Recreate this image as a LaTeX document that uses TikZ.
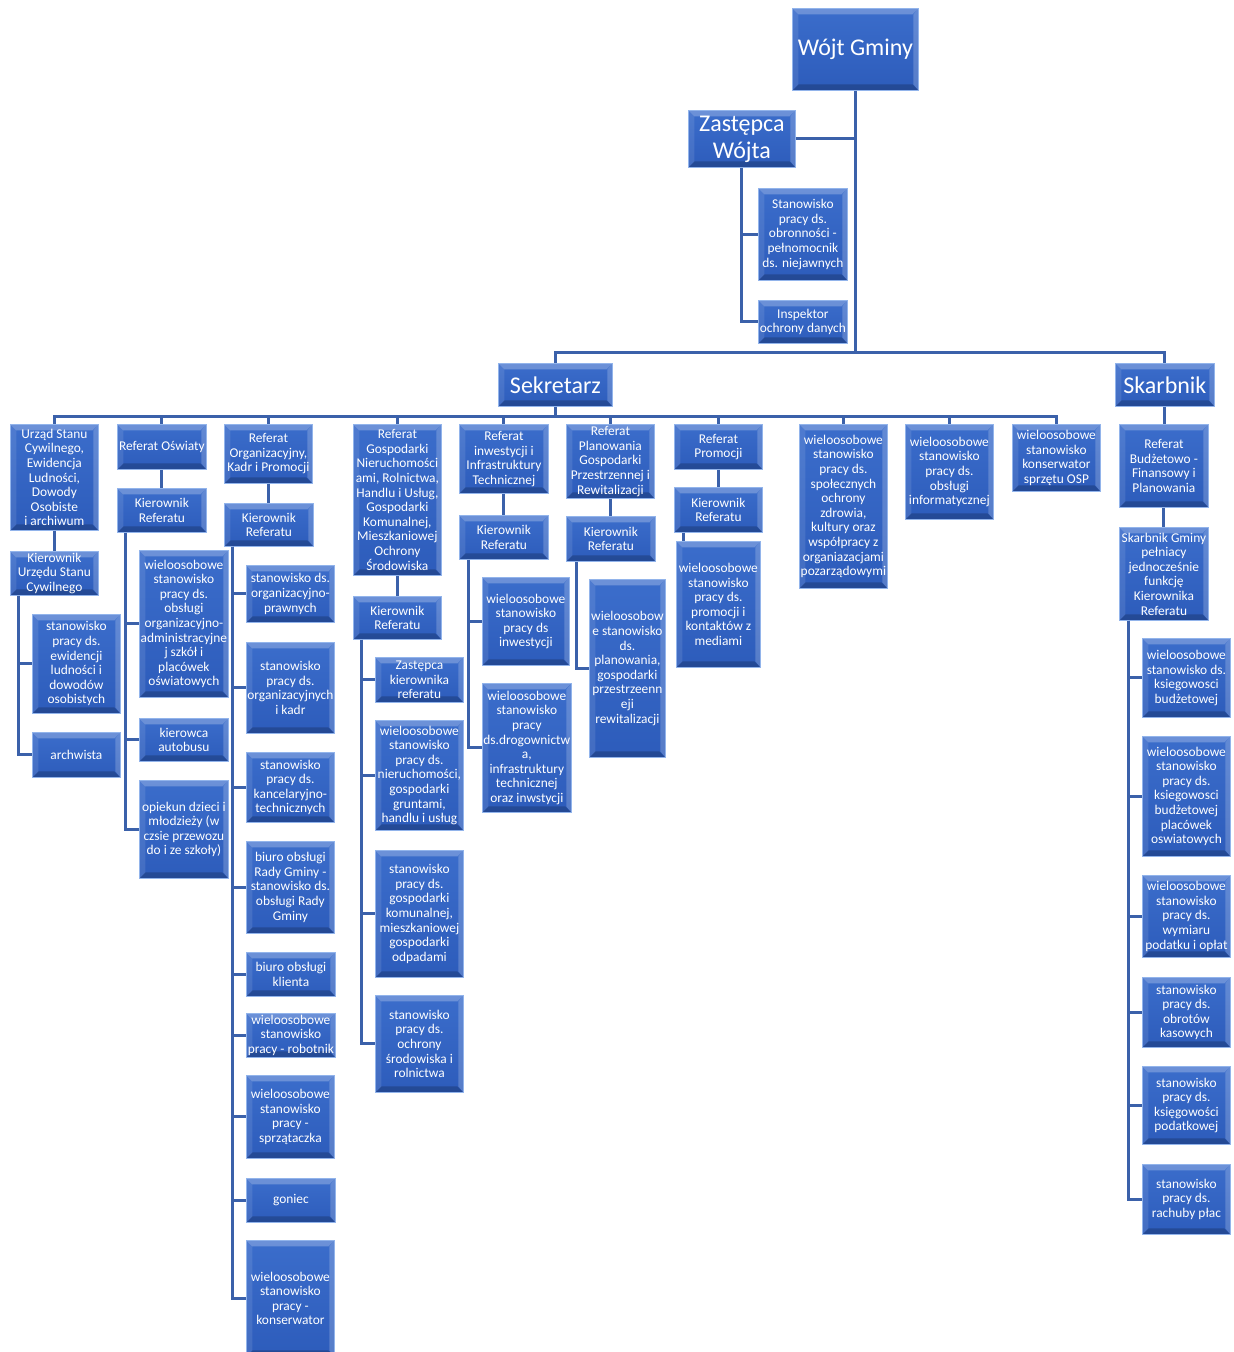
\documentclass[tikz,border=0pt]{standalone}
\usepackage{fontspec}
\setmainfont{Carlito}
\usepackage{xcolor}
\definecolor{boxtop}{HTML}{3B6DCB}
\definecolor{boxbot}{HTML}{2D5CBB}
\definecolor{boxedge}{HTML}{92B4EB}
\definecolor{linkblue}{HTML}{3B61AA}

\begin{document}
\begin{tikzpicture}[x=1pt, y=-1pt,
    box/.style={anchor=north west, draw=boxedge, line width=0.8pt, top color=boxtop, bottom color=boxbot,
      text=white, font=\fontsize{13.4}{14.6}\selectfont, align=center, minimum width=88pt, inner sep=1pt,
      path picture={
        \fill[white, opacity=0.25] (path picture bounding box.north west) -- (path picture bounding box.north east)
          -- ([xshift=-6pt,yshift=-6pt]path picture bounding box.north east) -- ([xshift=6pt,yshift=-6pt]path picture bounding box.north west) -- cycle;
        \fill[black, opacity=0.2] (path picture bounding box.south west) -- (path picture bounding box.south east)
          -- ([xshift=-6pt,yshift=6pt]path picture bounding box.south east) -- ([xshift=6pt,yshift=6pt]path picture bounding box.south west) -- cycle;
        \fill[white, opacity=0.1] (path picture bounding box.north west) -- (path picture bounding box.south west)
          -- ([xshift=6pt,yshift=6pt]path picture bounding box.south west) -- ([xshift=6pt,yshift=-6pt]path picture bounding box.north west) -- cycle;
        \fill[white, opacity=0.2] (path picture bounding box.north east) -- (path picture bounding box.south east)
          -- ([xshift=-5pt,yshift=6pt]path picture bounding box.south east) -- ([xshift=-5pt,yshift=-6pt]path picture bounding box.north east) -- cycle;
      }},
    big/.style={box, font=\fontsize{24}{27}\selectfont},
    link/.style={draw=linkblue, line width=3pt}]

  \useasboundingbox (0,0) rectangle (1234,1352);
  \clip (0,0) rectangle (1234,1352);

  % Top of the chart
  \node[big, minimum width=126pt, minimum height=82pt] (wojt) at (792,8) {Wójt Gminy};
  \node[big, minimum width=107pt, minimum height=57pt] (zastepca) at (688,110) {Zastępca\\Wójta};
  \node[box, minimum width=89pt, minimum height=92pt] (stan_obr) at (758,188) {Stanowisko\\pracy ds.\\obronności -\\pełnomocnik\\ds. niejawnych};
  \node[box, minimum width=89pt, minimum height=43pt] (inspektor) at (758,300) {Inspektor\\ochrony danych};
  \node[big, minimum width=114pt, minimum height=43pt] (sekretarz) at (498,363) {Sekretarz};
  \node[big, minimum width=99pt, minimum height=43pt] (skarbnik) at (1115,363) {Skarbnik};

  % Urząd Stanu Cywilnego
  \node[box, minimum height=106pt] (usc) at (10,424) {Urząd Stanu\\Cywilnego,\\Ewidencja\\Ludności,\\Dowody\\Osobiste\\i archiwum};
  \node[box, minimum height=44pt] (kier_usc) at (10,551) {Kierownik\\Urzędu Stanu\\Cywilnego};
  \node[box, minimum height=99pt] (ewid) at (32,614) {stanowisko\\pracy ds.\\ewidencji\\ludności i\\dowodów\\osobistych};
  \node[box, minimum height=45pt] (archiw) at (32,732) {archwista};

  % Referat Oświaty
  \node[box, minimum width=89pt, minimum height=45pt] (oswiata) at (117,424) {Referat Oświaty};
  \node[box, minimum width=89pt, minimum height=44pt] (kier_osw) at (117,488) {Kierownik\\Referatu};
  \node[box, minimum width=89pt, minimum height=147pt] (osw_adm) at (139,550) {wieloosobowe\\stanowisko\\pracy ds.\\obsługi\\organizacyjno-\\administracyjne\\j szkół i\\placówek\\oświatowych};
  \node[box, minimum width=89pt, minimum height=43pt] (kierowca) at (139,718) {kierowca\\autobusu};
  \node[box, minimum width=89pt, minimum height=98pt] (opiekun) at (139,780) {opiekun dzieci i\\młodzieży (w\\czsie przewozu\\do i ze szkoły)};

  % Referat Organizacyjny
  \node[box, minimum height=59pt] (organiz) at (224,424) {Referat\\Organizacyjny,\\Kadr i Promocji};
  \node[box, minimum width=89pt, minimum height=43pt] (kier_org) at (224,503) {Kierownik\\Referatu};
  \node[box, minimum height=57pt] (org_praw) at (246,565) {stanowisko ds.\\organizacyjno-\\prawnych};
  \node[box, minimum height=91pt] (org_kadr) at (246,642) {stanowisko\\pracy ds.\\organizacyjnych\\i kadr};
  \node[box, minimum height=70pt] (org_kanc) at (246,752) {stanowisko\\pracy ds.\\kancelaryjno-\\technicznych};
  \node[box, minimum height=92pt] (org_rada) at (246,841) {biuro obsługi\\Rady Gminy -\\stanowisko ds.\\obsługi Rady\\Gminy};
  \node[box, minimum width=89pt, minimum height=44pt] (org_klient) at (246,952) {biuro obsługi\\klienta};
  \node[box, minimum width=89pt, minimum height=44pt] (org_robot) at (246,1013) {wieloosobowe\\stanowisko\\pracy - robotnik};
  \node[box, minimum height=83pt] (org_sprz) at (246,1075) {wieloosobowe\\stanowisko\\pracy -\\sprzątaczka};
  \node[box, minimum width=89pt, minimum height=44pt] (org_goniec) at (246,1178) {goniec};
  \node[box, minimum height=116pt] (org_kons) at (246,1240) {wieloosobowe\\stanowisko\\pracy -\\konserwator};

  % Referat Gospodarki
  \node[box, minimum height=151pt] (gosp) at (353,424) {Referat\\Gospodarki\\Nieruchomości\\ami, Rolnictwa,\\Handlu i Usług,\\Gospodarki\\Komunalnej,\\Mieszkaniowej\\Ochrony\\Środowiska};
  \node[box, minimum height=43pt] (kier_gosp) at (353,596) {Kierownik\\Referatu};
  \node[box, minimum height=45pt] (g_zast) at (375,657) {Zastępca\\kierownika\\referatu};
  \node[box, minimum height=110pt] (g_nier) at (375,720) {wieloosobowe\\stanowisko\\pracy ds.\\nieruchomości,\\gospodarki\\gruntami,\\handlu i usług};
  \node[box, minimum height=127pt] (g_kom) at (375,850) {stanowisko\\pracy ds.\\gospodarki\\komunalnej,\\mieszkaniowej\\gospodarki\\odpadami};
  \node[box, minimum height=97pt] (g_srod) at (375,995) {stanowisko\\pracy ds.\\ochrony\\środowiska i\\rolnictwa};

  % Referat inwestycji
  \node[box, minimum width=89pt, minimum height=69pt] (inwest) at (459,424) {Referat\\inwestycji i\\Infrastruktury\\Technicznej};
  \node[box, minimum width=89pt, minimum height=44pt] (kier_inw) at (459,515) {Kierownik\\Referatu};
  \node[box, minimum width=87pt, minimum height=88pt] (i_inw) at (482,577) {wieloosobowe\\stanowisko\\pracy ds\\inwestycji};
  \node[box, minimum width=87pt, minimum height=129pt] (i_drog) at (482,683) {wieloosobowe\\stanowisko\\pracy\\ds.drogownictw\\a,\\infrastruktury\\technicznej\\oraz inwstycji};

  % Referat Planowania
  \node[box, minimum height=74pt] (planow) at (566,424) {Referat\\Planowania\\Gospodarki\\Przestrzennej i\\Rewitalizacji};
  \node[box, minimum width=89pt, minimum height=45pt] (kier_plan) at (566,516) {Kierownik\\Referatu};
  \node[box, minimum width=76pt, minimum height=178pt] (p_plan) at (589,579) {wieloosobow\\e stanowisko\\ds.\\planowania,\\gospodarki\\przestrzeenn\\eji\\rewitalizacji};

  % Referat Promocji
  \node[box, minimum height=45pt] (promocja) at (674,424) {Referat\\Promocji};
  \node[box, minimum height=45pt] (kier_prom) at (674,487) {Kierownik\\Referatu};
  \node[box, minimum width=84pt, minimum height=126pt] (pr_med) at (676,541) {wieloosobowe\\stanowisko\\pracy ds.\\promocji i\\kontaktów z\\mediami};

  % Other posts under Sekretarz
  \node[box, minimum height=164pt] (spol) at (799,424) {wieloosobowe\\stanowisko\\pracy ds.\\społecznych\\ochrony\\zdrowia,\\kultury oraz\\współpracy z\\organiazacjami\\pozarządowymi};
  \node[box, minimum height=95pt] (informat) at (905,424) {wieloosobowe\\stanowisko\\pracy ds.\\obsługi\\informatycznej};
  \node[box, minimum height=67pt] (osp) at (1012,424) {wieloosobowe\\stanowisko\\konserwator\\sprzętu OSP};

  % Skarbnik
  \node[box, minimum width=89pt, minimum height=83pt] (ref_budz) at (1119,424) {Referat\\Budżetowo -\\Finansowy i\\Planowania};
  \node[box, minimum width=89pt, minimum height=93pt] (skarb_gm) at (1119,527) {Skarbnik Gminy\\pełniacy\\jednocześnie\\funkcję\\Kierownika\\Referatu};
  \node[box, minimum height=79pt] (s_budz) at (1142,638) {wieloosobowe\\stanowisko ds.\\ksiegowosci\\budżetowej};
  \node[box, minimum height=120pt] (s_oswiat) at (1142,736) {wieloosobowe\\stanowisko\\pracy ds.\\ksiegowosci\\budżetowej\\placówek\\oswiatowych};
  \node[box, minimum height=82pt] (s_podat) at (1142,875) {wieloosobowe\\stanowisko\\pracy ds.\\wymiaru\\podatku i opłat};
  \node[box, minimum height=70pt] (s_kasa) at (1142,977) {stanowisko\\pracy ds.\\obrotów\\kasowych};
  \node[box, minimum height=78pt] (s_ksieg) at (1142,1066) {stanowisko\\pracy ds.\\księgowości\\podatkowej};
  \node[box, minimum height=70pt] (s_place) at (1142,1164) {stanowisko\\pracy ds.\\rachuby płac};

  % Connectors from the top
  \draw[link] (wojt.south) -- ++(0,262) coordinate (topbus);
  \draw[link] (topbus) -| (sekretarz.north);
  \draw[link] (topbus) -| (skarbnik.north);
  \draw[link] (zastepca.east) -| (wojt.south);
  \draw[link] (zastepca.south) |- (stan_obr.west);
  \draw[link] (zastepca.south) |- (inspektor.west);

  % Sekretarz bus
  \draw[link] (sekretarz.south) -- ++(0,10) coordinate (sbus);
  \draw[link] (sbus) -| (usc.north);
  \draw[link] (sbus) -| (oswiata.north);
  \draw[link] (sbus) -| (organiz.north);
  \draw[link] (sbus) -| (gosp.north);
  \draw[link] (sbus) -| (inwest.north);
  \draw[link] (sbus) -| (planow.north);
  \draw[link] (sbus) -| (promocja.north);
  \draw[link] (sbus) -| (spol.north);
  \draw[link] (sbus) -| (informat.north);
  \draw[link] (sbus) -| (osp.north);

  % Referat to Kierownik
  \draw[link] (usc.south) -- (kier_usc.north);
  \draw[link] (oswiata.south) -- (kier_osw.north);
  \draw[link] (organiz.south) -- (organiz.south |- kier_org.north);
  \draw[link] (gosp.south) -- (kier_gosp.north);
  \draw[link] (inwest.south) -- (kier_inw.north);
  \draw[link] (planow.south) -- (planow.south |- kier_plan.north);
  \draw[link] (promocja.south) -- (kier_prom.north);
  \draw[link] (skarbnik.south) -- (skarbnik.south |- ref_budz.north);
  \draw[link] (ref_budz.south) -- (skarb_gm.north);

  % Staff under each Kierownik
  \draw[link] ([xshift=8pt]kier_usc.south west) |- (ewid.west);
  \draw[link] ([xshift=8pt]kier_usc.south west) |- (archiw.west);

  \draw[link] ([xshift=8pt]kier_osw.south west) |- (osw_adm.west);
  \draw[link] ([xshift=8pt]kier_osw.south west) |- (kierowca.west);
  \draw[link] ([xshift=8pt]kier_osw.south west) |- (opiekun.west);

  \draw[link] ([xshift=8pt]kier_org.south west) |- (org_praw.west);
  \draw[link] ([xshift=8pt]kier_org.south west) |- (org_kadr.west);
  \draw[link] ([xshift=8pt]kier_org.south west) |- (org_kanc.west);
  \draw[link] ([xshift=8pt]kier_org.south west) |- (org_rada.west);
  \draw[link] ([xshift=8pt]kier_org.south west) |- (org_klient.west);
  \draw[link] ([xshift=8pt]kier_org.south west) |- (org_robot.west);
  \draw[link] ([xshift=8pt]kier_org.south west) |- (org_sprz.west);
  \draw[link] ([xshift=8pt]kier_org.south west) |- (org_goniec.west);
  \draw[link] ([xshift=8pt]kier_org.south west) |- (org_kons.west);

  \draw[link] ([xshift=8pt]kier_gosp.south west) |- (g_zast.west);
  \draw[link] ([xshift=8pt]kier_gosp.south west) |- (g_nier.west);
  \draw[link] ([xshift=8pt]kier_gosp.south west) |- (g_kom.west);
  \draw[link] ([xshift=8pt]kier_gosp.south west) |- (g_srod.west);

  \draw[link] ([xshift=9pt]kier_inw.south west) |- (i_inw.west);
  \draw[link] ([xshift=9pt]kier_inw.south west) |- (i_drog.west);

  \draw[link] ([xshift=10pt]kier_plan.south west) |- (p_plan.west);

  \coordinate (promtrunk) at ([xshift=9pt]kier_prom.south west);
  \draw[link] (promtrunk) -- (promtrunk |- pr_med.north);

  \draw[link] ([xshift=9pt]skarb_gm.south west) |- (s_budz.west);
  \draw[link] ([xshift=9pt]skarb_gm.south west) |- (s_oswiat.west);
  \draw[link] ([xshift=9pt]skarb_gm.south west) |- (s_podat.west);
  \draw[link] ([xshift=9pt]skarb_gm.south west) |- (s_kasa.west);
  \draw[link] ([xshift=9pt]skarb_gm.south west) |- (s_ksieg.west);
  \draw[link] ([xshift=9pt]skarb_gm.south west) |- (s_place.west);
\end{tikzpicture}
\end{document}
